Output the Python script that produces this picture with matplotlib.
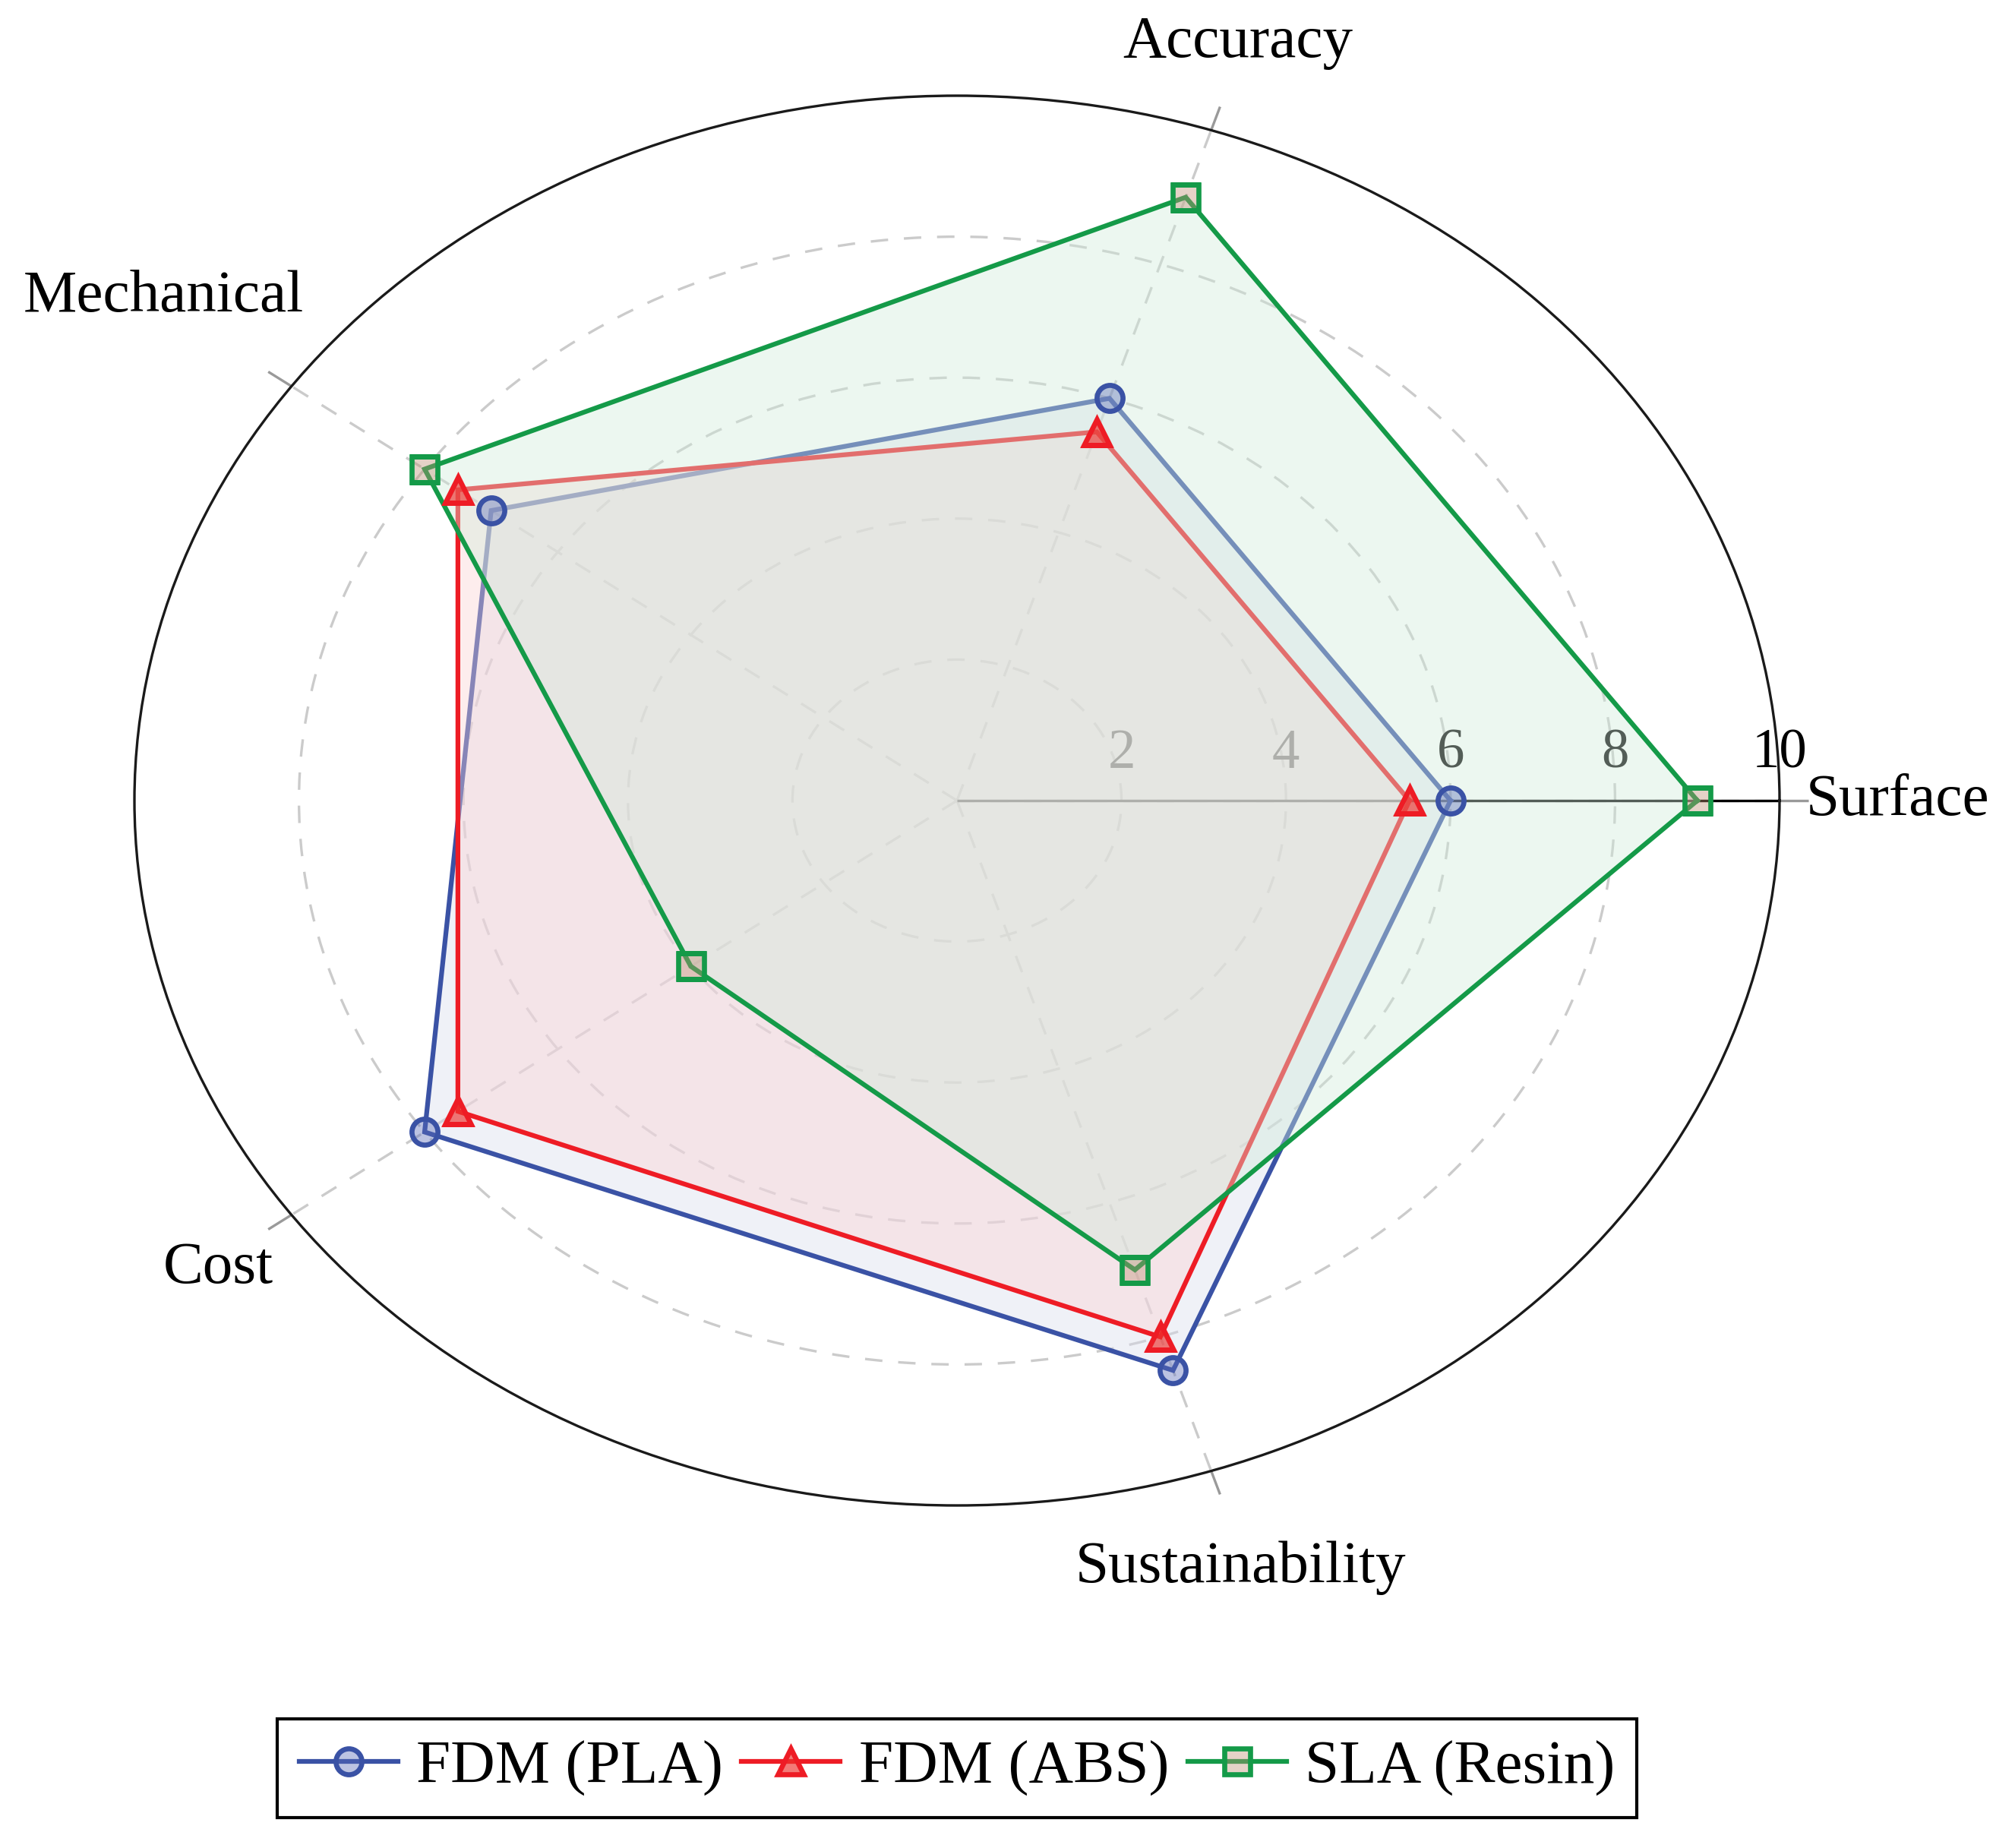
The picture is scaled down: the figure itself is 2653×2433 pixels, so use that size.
import numpy as np
import matplotlib
matplotlib.use('Agg')
import matplotlib.pyplot as plt
from matplotlib.lines import Line2D

# ---------------- data ----------------
categories = ['Surface', 'Accuracy', 'Mechanical', 'Cost', 'Sustainability']
pla_values = [6, 6, 7, 8, 8.5]
abs_values = [5.5, 5.5, 7.5, 7.5, 8]
sla_values = [9, 9, 8, 4, 7]
series_names = ['FDM (PLA)', 'FDM (ABS)', 'SLA (Resin)']
r_tick_values = [2, 4, 6, 8, 10]

# ---------------- style ----------------
plt.rcParams['font.family'] = ['Liberation Serif', 'DejaVu Serif']
plt.rcParams['lines.scale_dashes'] = False

line_colors = ['#3a52a5', '#ee1c25', '#149a48']
markers = ['o', '^', 's']
marker_faces = [(0.35, 0.42, 0.72, 0.40), (0.93, 0.20, 0.18, 0.65), (0.75, 0.56, 0.45, 0.40)]


def tint(c, t=0.2):
    rgb = np.array(matplotlib.colors.to_rgb(c))
    return tuple(rgb * t + (1 - t))


# label placement (theta in degrees, radius) - layout only
label_pos = [(0, 10.32), (72.4, 11.28), (143.5, 12.0), (216.5, 11.17), (287.6, 11.42)]

fig = plt.figure(figsize=(2653 / 300, 2433 / 300), dpi=300)
ax = fig.add_axes([177 / 2653, 451 / 2433, 2166 / 2653, 1856 / 2433], projection='polar')
ax.set_aspect('auto')
ax.set_axisbelow(True)

n = len(categories)
angles = np.arange(n) * 2 * np.pi / n
ax.set_ylim(0, 10)
ax.set_thetagrids(np.degrees(angles), labels=[''] * n)
ax.set_rgrids(r_tick_values[:-1], labels=[''] * (len(r_tick_values) - 1))
ax.grid(True, color='#cbcbcb', linewidth=0.8, linestyle=(0, (5.5, 5)))
ax.tick_params(size=0)
ax.spines['polar'].set_linewidth(0.8)
ax.spines['polar'].set_color('#1a1a1a')
ax.spines['polar'].set_zorder(12)

# radial axis line at 0 deg (solid black, under the fills)
ax.plot([0, 0], [0, 10], color='black', lw=0.8, zorder=1.5, solid_capstyle='butt')
# short tick extensions beyond outer circle
for a in angles:
    ax.plot([a, a], [10, 10.35], color='#9a9a9a', lw=0.8, clip_on=False, zorder=1.5,
            solid_capstyle='butt')

# radial tick labels
for r in r_tick_values:
    ax.annotate(str(r), xy=(0, r), xytext=(0, 6.5), textcoords='offset points',
                ha='center', va='bottom', fontsize=17.5, color='black', zorder=1.5,
                annotation_clip=False)

# series
all_values = [pla_values, abs_values, sla_values]
handles = []
for i, vals in enumerate(all_values):
    th = np.append(angles, angles[0])
    rr = np.append(vals, vals[0])
    c = line_colors[i]
    ax.fill(th, rr, color=tint(c, 0.2), alpha=0.4, lw=0, zorder=2 + 2 * i)
    ax.plot(th, rr, color=c, lw=1.5, zorder=3 + 2 * i, solid_joinstyle='miter')
    ax.plot(angles, vals, ls='none', marker=markers[i], ms=8.2, mew=1.6,
            mec=c, mfc=marker_faces[i], zorder=10)
    handles.append(Line2D([], [], color=c, lw=1.5, marker=markers[i], ms=8.2, mew=1.6,
                          mec=c, mfc=marker_faces[i]))

# category labels
for cat, (tdeg, rr) in zip(categories, label_pos):
    if cat == 'Surface':
        ax.text(np.radians(tdeg), rr, cat, ha='left', va='center', fontsize=19, clip_on=False)
    else:
        ax.text(np.radians(tdeg), rr, cat, ha='center', va='center', fontsize=19, clip_on=False)

leg = fig.legend(handles, series_names, loc='center', bbox_to_anchor=(1260 / 2653, 1 - 2328 / 2433),
                 ncol=3, fontsize=19.5, frameon=True, fancybox=False, edgecolor='black',
                 framealpha=1, handlelength=1.6, handletextpad=0.3, columnspacing=0.3,
                 borderpad=0.35)
leg.get_frame().set_linewidth(1.0)

fig.savefig('out.png', dpi=300)
